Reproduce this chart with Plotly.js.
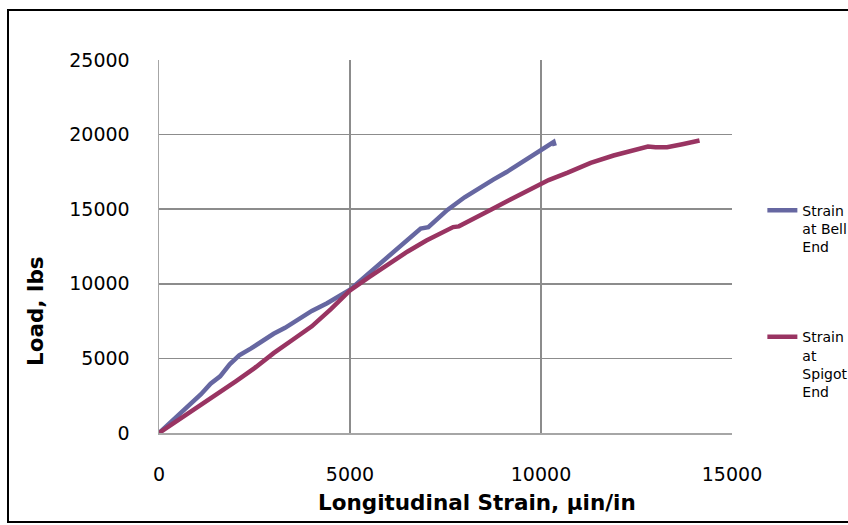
<!DOCTYPE html>
<html>
<head>
<meta charset="utf-8">
<script src="https://cdn.plot.ly/plotly-3.0.1.min.js"></script>
<style>
html,body{margin:0;padding:0;background:#fff;}
#wrap{position:relative;width:848px;height:525px;overflow:hidden;}
#chart{position:absolute;left:0;top:0;width:848px;height:525px;}
#frame{position:absolute;left:7px;top:9px;width:900px;height:510px;border:2px solid #000;pointer-events:none;}
</style>
</head>
<body>
<div id="wrap"><div id="chart"></div><div id="frame"></div></div>
<script>
// Strain at Bell End
const bellStrain = [0, 300, 600, 900, 1100, 1350, 1600, 1850, 2100, 2400, 2700, 3000, 3300, 3600, 4000, 4400, 4800, 5000, 5400, 5800, 6200, 6600, 6850, 7050, 7300, 7550, 8000, 8400, 8750, 9100, 9500, 9970, 10150, 10300, 10330, 10360];
const bellLoad   = [0, 700, 1400, 2100, 2600, 3300, 3800, 4600, 5200, 5650, 6150, 6650, 7050, 7550, 8180, 8700, 9250, 9600, 10500, 11400, 12300, 13200, 13700, 13800, 14400, 14950, 15800, 16450, 16980, 17490, 18120, 18900, 19200, 19450, 19500, 19250];
// Strain at Spigot End
const spigotStrain = [0, 500, 1000, 1500, 2000, 2500, 3000, 3500, 4000, 4500, 5000, 5500, 6000, 6500, 7000, 7400, 7700, 7850, 8200, 8700, 9200, 9700, 10200, 10700, 11300, 11900, 12500, 12800, 13000, 13300, 13700, 14150];
const spigotLoad   = [0, 850, 1700, 2550, 3450, 4350, 5350, 6250, 7150, 8300, 9550, 10450, 11300, 12150, 12900, 13450, 13800, 13850, 14350, 14980, 15650, 16270, 16950, 17450, 18100, 18600, 19000, 19200, 19150, 19150, 19350, 19600];

const seriesNames = ["Strain<br>at Bell<br>End", "Strain<br>at<br>Spigot<br>End"];
const xTicks = [0, 5000, 10000, 15000];
const yTicks = [0, 5000, 10000, 15000, 20000, 25000];
const xTitle = "Longitudinal Strain, µin/in";
const yTitle = "Load, lbs";

const traces = [
  {x: bellStrain, y: bellLoad, name: seriesNames[0], mode: "lines", legendgroup: "a",
   line: {color: "#6667A1", width: 4.5}},
  {x: spigotStrain, y: spigotLoad, name: seriesNames[1], mode: "lines", legendgroup: "b",
   line: {color: "#993462", width: 4.5}}
];

const tickFont = {family: "DejaVu Sans", size: 19, color: "#000"};
const titleFont = {family: "DejaVu Sans", size: 21.5, color: "#000", weight: "bold"};
const layout = {
  width: 848, height: 525,
  margin: {l: 159, r: 116, t: 60, b: 92, autoexpand: false},
  paper_bgcolor: "#fff", plot_bgcolor: "#fff",
  showlegend: true,
  legend: {x: 1.053, xanchor: "left", y: 0.639, yanchor: "top", valign: "top",
           font: {family: "DejaVu Sans", size: 14, color: "#000"},
           tracegroupgap: 69, bgcolor: "rgba(0,0,0,0)"},
  xaxis: {range: [0, 15000], tickvals: xTicks, ticktext: xTicks.map(String),
          showgrid: true, gridcolor: "#8c8c8c", gridwidth: 1.5,
          showline: true, linecolor: "#a6a6a6", linewidth: 1.5, mirror: false,
          zeroline: false, ticks: "", ticklabelstandoff: 24, tickfont: tickFont},
  yaxis: {range: [0, 25000], tickvals: yTicks, ticktext: yTicks.map(String),
          showgrid: true, gridcolor: "#8c8c8c", gridwidth: 1.5,
          showline: true, linecolor: "#a6a6a6", linewidth: 1.5,
          zeroline: false, ticks: "", ticklabelstandoff: 24, tickfont: tickFont},
  annotations: [
    {text: xTitle, xref: "paper", yref: "paper", x: (477 - 159) / 573, y: (433 - 503) / 373,
     xanchor: "center", yanchor: "middle", showarrow: false, font: titleFont},
    {text: yTitle, xref: "paper", yref: "paper", x: (35 - 159) / 573, y: (433 - 311) / 373,
     xanchor: "center", yanchor: "middle", showarrow: false, textangle: -90, font: titleFont}
  ]
};

Plotly.newPlot("chart", traces, layout, {displayModeBar: false, staticPlot: true});
</script>
</body>
</html>
